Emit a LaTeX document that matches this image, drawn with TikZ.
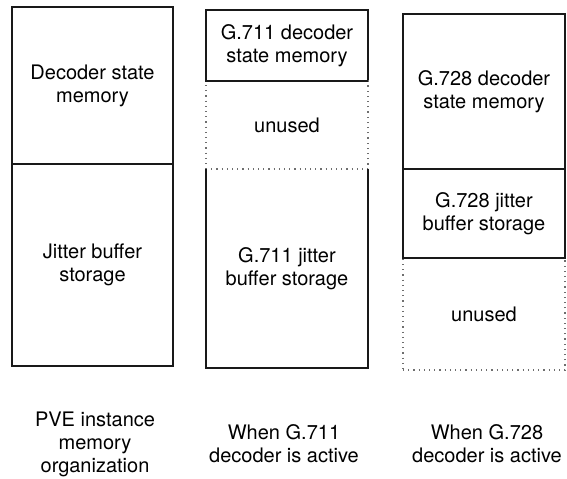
\documentclass[tikz,border=0pt]{standalone}
\usepackage{fontspec}
\setmainfont{TeX Gyre Heros}
\usepackage{tikz}
\usetikzlibrary{positioning}
\definecolor{lineBlack}{RGB}{25,25,25}
\definecolor{dotGray}{RGB}{110,110,110}

\begin{document}
\begin{tikzpicture}[
    x=0.5pt, y=-0.5pt,
    % Used memory block
    memUsed/.style={
        rectangle, draw=lineBlack, line width=0.8pt,
        minimum width=81pt, inner sep=0pt, outer sep=0pt,
        align=center, font=\fontsize{10}{11.5}\selectfont
    },
    % Unused memory block
    memFree/.style={
        rectangle, draw=dotGray, dotted, line width=0.6pt,
        minimum width=81pt, inner sep=0pt, outer sep=0pt,
        align=center, font=\fontsize{10}{11.5}\selectfont
    },
    % Column caption
    caption/.style={
        align=center, font=\fontsize{10}{11.5}\selectfont
    }
]
\useasboundingbox (0,0) rectangle (567,478);
% -- PVE instance column --------------------------------------
\node[memUsed, minimum width=80.5pt, minimum height=78.5pt] (pveState)
    at (92.5, 85.5) {Decoder state\\memory};
\node[memUsed, minimum width=80.5pt, minimum height=101pt] (pveJitter)
    at (92.5, 265) {Jitter buffer\\storage};
% -- G.711 column ---------------------------------------------
\node[memUsed, minimum height=35.5pt] (gaState)
    at (287, 45.5) {G.711 decoder\\state memory};
\node[memFree, minimum height=44pt] (gaFree)
    at (287, 125) {unused};
\node[memUsed, draw=none, minimum height=99.5pt] (gaJitter)
    at (287, 268.5) {G.711 jitter\\buffer storage};
% jitter block: solid sides, dotted top from gaFree
\draw[line width=0.8pt, draw=lineBlack]
    (gaJitter.north west) -- (gaJitter.south west)
    -- (gaJitter.south east) -- (gaJitter.north east);
\draw[line width=0.8pt, draw=lineBlack]
    (gaState.south west) -- (gaState.south east);
% -- G.728 column ---------------------------------------------
\node[memUsed, minimum height=77.5pt] (gbState)
    at (484, 91.5) {G.728 decoder\\state memory};
\node[memUsed, minimum height=44.5pt] (gbJitter)
    at (484, 213.5) {G.728 jitter\\buffer storage};
\node[memFree, minimum height=56pt] (gbFree)
    at (484, 314) {unused};
\draw[line width=0.8pt, draw=lineBlack]
    (gbJitter.south west) -- (gbJitter.south east);
% -- Captions ---------------------------------------------------
\node[caption] (capPve) at (95, 444)
    {PVE instance\\memory\\organization};
\node[caption] (capGa) at (284, 443.5)
    {When G.711\\decoder is active};
\node[caption] (capGb) at (487, 443.5)
    {When G.728\\decoder is active};
\end{tikzpicture}
\end{document}
